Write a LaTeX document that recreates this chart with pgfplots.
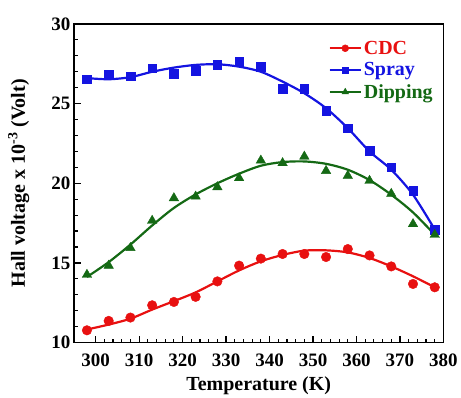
\documentclass[border=0pt]{standalone}
\usepackage{fontspec}
\setmainfont{Liberation Serif}
\usepackage{pgfplots}
\pgfplotsset{compat=1.18}
\definecolor{cdcred}{RGB}{232,16,16}
\definecolor{sprblue}{RGB}{20,20,225}
\definecolor{dipgreen}{RGB}{20,105,20}
\begin{document}
\begin{tikzpicture}
\begin{axis}[
  name=main,
  scale only axis,
  width=370pt, height=319pt,
  xmin=295, xmax=380, ymin=10, ymax=30,
  xtick={300,310,...,380}, ytick={10,15,20,25,30},
  xticklabels={300,310,320,330,340,350,360,370,380},
  yticklabels={10,15,20,25,30},
  minor x tick num=4, minor y tick num=4,
  tick align=inside, tick pos=left,
  major tick length=7pt, minor tick length=4pt,
  every tick/.style={black, line width=1.2pt},
  axis line style={line width=1.5pt},
  ticklabel style={font=\fontsize{19}{21}\selectfont\bfseries},
  xticklabel style={yshift=-8pt},
  xlabel={Temperature (K)},
  ylabel={Hall voltage x 10\textsuperscript{-3} (Volt)},
  label style={font=\fontsize{20}{22}\selectfont\bfseries},
  xlabel style={at={(axis description cs:0.5,-0.135)}, anchor=center},
  ylabel style={at={(axis description cs:-0.111,0.5)}, anchor=south},
  legend style={draw=none, fill=none, at={(0.985,0.96)}, anchor=north east,
    font=\fontsize{20}{22}\selectfont\bfseries, row sep=3pt},
  legend cell align=left,
  legend image code/.code={
    \draw[#1, line width=2pt] (0cm,0cm) -- (1.1cm,0cm);
    \draw[#1, mark repeat=2, mark phase=2] plot coordinates {(0cm,0cm) (0.55cm,0cm) (1.1cm,0cm)};
  },
]
% fitted curves
\addplot[cdcred, line width=2.2pt, smooth, forget plot] coordinates {
(298,10.82) (303,11.13) (308,11.50) (313,12.07) (318,12.60) (323,13.15) (328,13.84)
(333,14.53) (338,15.10) (343,15.50) (348,15.77) (353,15.79) (358,15.66) (363,15.31)
(368,14.78) (373,14.16) (378,13.47)};
\addplot[sprblue, line width=2.2pt, smooth, forget plot] coordinates {
(298,26.60) (303,26.53) (308,26.66) (313,27.00) (318,27.26) (323,27.43) (328,27.47)
(333,27.32) (338,27.00) (343,26.38) (348,25.65) (353,24.71) (358,23.46) (363,22.00)
(368,20.85) (373,19.28) (378,17.10)};
\addplot[dipgreen, line width=2.2pt, smooth, forget plot] coordinates {
(298,14.12) (303,15.05) (308,16.15) (313,17.35) (318,18.45) (323,19.30) (328,20.00)
(333,20.60) (338,21.10) (343,21.33) (348,21.37) (353,21.22) (358,20.85) (363,20.20)
(368,19.28) (373,18.17) (378,16.77)};
% data markers
\addplot[only marks, cdcred, mark=*, mark size=4.8pt, forget plot] coordinates {
(298,10.77) (303,11.36) (308,11.57) (313,12.34) (318,12.55) (323,12.87) (328,13.84)
(333,14.83) (338,15.27) (343,15.56) (348,15.56) (353,15.37) (358,15.87) (363,15.47)
(368,14.78) (373,13.68) (378,13.47)};
\addplot[only marks, sprblue, mark=square*, mark size=4.3pt, forget plot] coordinates {
(298,26.53) (303,26.80) (308,26.72) (313,27.22) (318,26.87) (323,27.05) (328,27.43)
(333,27.64) (338,27.32) (343,25.92) (348,25.92) (353,24.56) (358,23.45) (363,22.04)
(368,21.00) (373,19.53) (378,17.08)};
\addplot[only marks, dipgreen, mark=triangle*, mark size=5.5pt, forget plot] coordinates {
(298,14.26) (303,14.83) (308,15.94) (313,17.65) (318,19.07) (323,19.17) (328,19.76)
(333,20.33) (338,21.43) (343,21.27) (348,21.68) (353,20.78) (358,20.47) (363,20.16)
(368,19.34) (373,17.44) (378,16.77)};
\addlegendimage{cdcred, mark=*, mark size=3.5pt}
\addlegendentry{\textcolor{cdcred}{CDC}}
\addlegendimage{sprblue, mark=square*, mark size=3pt}
\addlegendentry{\textcolor{sprblue}{Spray}}
\addlegendimage{dipgreen, mark=triangle*, mark size=3.8pt}
\addlegendentry{\textcolor{dipgreen}{Dipping}}
\end{axis}
\path ([xshift=-74pt,yshift=-52pt]main.south west) rectangle ([xshift=17pt,yshift=24pt]main.north east);
\end{tikzpicture}
\end{document}
